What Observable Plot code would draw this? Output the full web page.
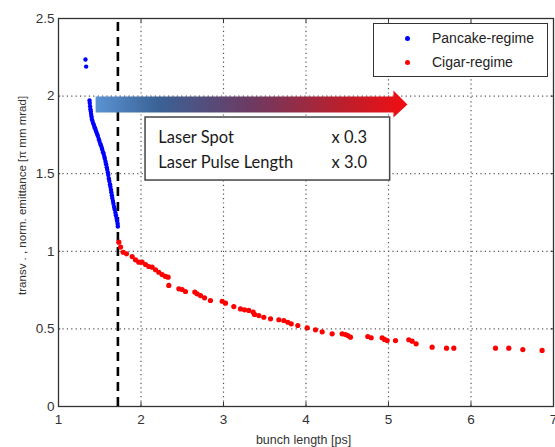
<!DOCTYPE html>
<html>
<head>
<meta charset="utf-8">
<script src="https://cdn.jsdelivr.net/npm/d3@7"></script>
<script src="https://cdn.jsdelivr.net/npm/@observablehq/plot@0.6"></script>
<style>
  html, body { margin: 0; padding: 0; background: #fff; }
  #wrap { position: relative; width: 555px; height: 447px; overflow: hidden; font-family: "Liberation Sans", Arial, sans-serif; }
  #legend { position: absolute; left: 373px; top: 23px; width: 173px; height: 52px; border: 1.5px solid #333; background: #fff; font-size: 14px; color: #222; }
  .li { position: absolute; left: 0; height: 16px; line-height: 16px; }
  .li .d { position: absolute; left: 31px; top: 6px; width: 5px; height: 5px; border-radius: 50%; }
  .li .t { position: absolute; left: 58px; top: 0; white-space: nowrap; }
</style>
</head>
<body>
<div id="wrap"></div>
<script>
// ---- data ----
const xTicks = [1, 2, 3, 4, 5, 6, 7];
const yTicks = [0, 0.5, 1, 1.5, 2, 2.5];
const seriesNames = ["Pancake-regime", "Cigar-regime"];
const seriesColors = ["#0000ff", "#ff0000"];

const pancakeX = [1.327,1.335,1.376,1.379,1.383,1.387,1.392,1.395,1.400,1.404,1.411,1.419,1.428,1.435,1.443,1.452,1.459,1.468,1.477,1.488,1.496,1.506,1.514,1.524,1.530,1.540,1.548,1.556,1.562,1.570,1.577,1.585,1.591,1.598,1.603,1.610,1.616,1.624,1.629,1.636,1.640,1.647,1.652,1.660,1.666,1.674,1.681,1.690,1.696,1.703,1.709,1.716,1.719];
const pancakeY = [2.236,2.190,1.972,1.956,1.935,1.916,1.901,1.884,1.869,1.853,1.841,1.826,1.816,1.802,1.793,1.779,1.769,1.756,1.743,1.724,1.711,1.694,1.683,1.667,1.656,1.639,1.627,1.609,1.596,1.577,1.561,1.542,1.526,1.507,1.491,1.469,1.453,1.432,1.416,1.397,1.381,1.361,1.344,1.324,1.306,1.286,1.269,1.249,1.233,1.214,1.197,1.178,1.160];

const cigarX = [1.731,1.752,1.784,1.824,1.893,1.933,1.973,2.014,2.055,2.095,2.135,2.176,2.216,2.256,2.297,2.329,2.337,2.459,2.499,2.539,2.652,2.680,2.721,2.770,2.842,2.984,3.024,3.125,3.206,3.255,3.307,3.360,3.376,3.428,3.489,3.570,3.671,3.731,3.780,3.821,3.901,4.015,4.115,4.196,4.317,4.438,4.479,4.507,4.539,4.749,4.790,4.923,4.952,4.984,5.085,5.246,5.287,5.335,5.529,5.703,5.792,6.297,6.458,6.628,6.862];
const cigarY = [1.059,1.027,0.994,0.984,0.966,0.945,0.930,0.930,0.915,0.902,0.898,0.881,0.865,0.850,0.838,0.833,0.780,0.758,0.754,0.741,0.737,0.726,0.715,0.700,0.683,0.678,0.666,0.644,0.629,0.623,0.619,0.608,0.593,0.586,0.575,0.565,0.559,0.554,0.543,0.533,0.522,0.507,0.494,0.481,0.468,0.468,0.464,0.457,0.447,0.451,0.443,0.443,0.432,0.425,0.425,0.430,0.421,0.404,0.382,0.376,0.376,0.376,0.376,0.367,0.361];

// regime boundary (bunch length, ps)
const boundaryX = [1.72];

// annotation (data units)
const arrowX = [1.45, 5.06, 5.06, 5.23, 5.06, 5.06, 1.45];
const arrowY = [1.997, 1.997, 2.036, 1.946, 1.862, 1.894, 1.894];
const boxX = [2.055, 5.02];
const boxY = [1.456, 1.862];
const boxLabels = ["Laser Spot", "Laser Pulse Length"];
const boxFactors = ["x 0.3", "x 3.0"];
const boxLineY = [1.733, 1.572];
const boxLabelX = 2.21;
const boxFactorX = 4.74;

const xLabel = "bunch length [ps]";
const yLabel = "transv . , norm. emittance [\u03c0 mm mrad]";

// ---- build ----
const pancake = pancakeX.map((x, i) => ({x, y: pancakeY[i]}));
const cigar = cigarX.map((x, i) => ({x, y: cigarY[i]}));
const arrow = arrowX.map((x, i) => ({x, y: arrowY[i]}));
const boxRows = boxLabels.map((l, i) => ({l, f: boxFactors[i], y: boxLineY[i]}));
const innerX = xTicks.slice(1, -1);
const innerY = yTicks.slice(1, -1);
const tickLenY = 0.028, tickLenX = 0.055;

const chart = Plot.plot({
  width: 555,
  height: 447,
  marginLeft: 58,
  marginRight: 2,
  marginTop: 18,
  marginBottom: 41,
  style: {fontFamily: "Liberation Sans, Arial, sans-serif", background: "#fff"},
  x: {domain: [1, 7]},
  y: {domain: [0, 2.5]},
  marks: [
    Plot.ruleX(innerX, {x: d => d, y1: 0, y2: 2.5, stroke: "#555", strokeWidth: 1.2, strokeDasharray: "1.2,3.2"}),
    Plot.ruleY(innerY, {y: d => d, x1: 1, x2: 7, stroke: "#555", strokeWidth: 1.2, strokeDasharray: "1.2,3.2"}),
    // inner tick marks
    Plot.ruleX(innerX, {x: d => d, y1: 0, y2: tickLenY, stroke: "#333"}),
    Plot.ruleX(innerX, {x: d => d, y1: 2.5 - tickLenY, y2: 2.5, stroke: "#333"}),
    Plot.ruleY(innerY, {y: d => d, x1: 1, x2: 1 + tickLenX * 0.5, stroke: "#333"}),
    Plot.ruleY(innerY, {y: d => d, x1: 7 - tickLenX * 0.5, x2: 7, stroke: "#333"}),
    Plot.axisX(xTicks, {tickSize: 0, tickPadding: 8, fontSize: 13.5, fill: "#333", label: null, tickFormat: d => String(d)}),
    Plot.axisY(yTicks, {tickSize: 0, tickPadding: 4, fontSize: 13.5, fill: "#333", label: null, tickFormat: d => String(d)}),
    Plot.text([xLabel], {x: 3.97, frameAnchor: "bottom", dy: 33, text: d => d, fontSize: 12.5, fill: "#333", lineAnchor: "middle"}),
    Plot.text([yLabel], {x: 0.565, y: 1.36, rotate: -90, textAnchor: "middle", lineAnchor: "middle", text: d => d, fontSize: 11.5, fill: "#333", clip: false}),
    Plot.frame({stroke: "#333", strokeWidth: 1.3}),
    // regime boundary
    Plot.ruleX(boundaryX, {x: d => d, y1: 0, y2: 2.5, stroke: "#000", strokeWidth: 2.6, strokeDasharray: "9,6"}),
    // data
    Plot.dot(pancake, {x: "x", y: "y", r: 2.2, fill: seriesColors[0], stroke: "none"}),
    Plot.dot(cigar, {x: "x", y: "y", r: 2.6, fill: seriesColors[1], stroke: "none"}),
    // annotation
    Plot.line(arrow, {x: "x", y: "y", fill: "url(#arrowGrad)", stroke: "none", curve: "linear-closed"}),
    Plot.rect([0], {x1: boxX[0], x2: boxX[1], y1: boxY[0], y2: boxY[1], fill: "#fff", stroke: "#444", strokeWidth: 1.5}),
    Plot.text(boxRows, {x: boxLabelX, y: "y", text: "l", textAnchor: "start", fontSize: 16.5, fontFamily: "Lato, Open Sans, sans-serif", fill: "#1a1a1a"}),
    Plot.text(boxRows, {x: boxFactorX, y: "y", text: "f", textAnchor: "end", fontSize: 16.5, fontFamily: "Lato, Open Sans, sans-serif", fill: "#1a1a1a"})
  ]
});

d3.select(chart).insert("defs", ":first-child").html(
  '<linearGradient id="arrowGrad" x1="0" y1="0" x2="1" y2="0">' +
  '<stop offset="0" stop-color="#5b93d3"/>' +
  '<stop offset="0.2" stop-color="#3a6296"/>' +
  '<stop offset="0.5" stop-color="#6d3a62"/>' +
  '<stop offset="0.78" stop-color="#b8202e"/>' +
  '<stop offset="1" stop-color="#f20d12"/>' +
  '</linearGradient>'
);

const wrap = document.getElementById("wrap");
wrap.appendChild(chart);

const legend = document.createElement("div");
legend.id = "legend";
seriesNames.forEach((name, i) => {
  const row = document.createElement("div");
  row.className = "li";
  row.style.top = (6 + i * 24) + "px";
  row.innerHTML = '<span class="d" style="background:' + seriesColors[i] + '"></span><span class="t">' + name + '</span>';
  legend.appendChild(row);
});
wrap.appendChild(legend);
</script>
</body>
</html>
